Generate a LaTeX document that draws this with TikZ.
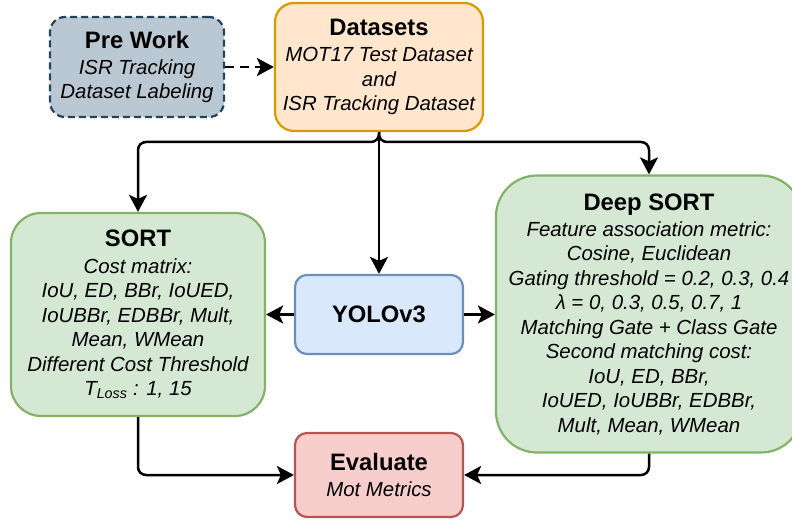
\documentclass[tikz,border=0pt]{standalone}
\usepackage{fontspec}
\setmainfont{Liberation Sans}
\usetikzlibrary{arrows.meta}
\definecolor{preFill}{HTML}{BAC8D3}
\definecolor{preLine}{HTML}{23445D}
\definecolor{dataFill}{HTML}{FFE6CC}
\definecolor{dataLine}{HTML}{D79B00}
\definecolor{greenFill}{HTML}{D5E8D4}
\definecolor{greenLine}{HTML}{82B366}
\definecolor{blueFill}{HTML}{DAE8FC}
\definecolor{blueLine}{HTML}{6C8EBF}
\definecolor{redFill}{HTML}{F8CECC}
\definecolor{redLine}{HTML}{B85450}
\newcommand\boxtitle[1]{{\fontsize{23.8}{24.5}\selectfont\bfseries\upshape #1}}
\begin{document}
\begin{tikzpicture}[x=1pt,y=-1pt,
  box/.style={draw, line width=2.2pt, align=center, inner sep=0pt,
    font=\fontsize{20.4}{24.5}\selectfont\itshape},
  conn/.style={line width=2.5pt, -{Stealth[length=17pt,width=18pt,inset=4pt]}},
]
\useasboundingbox (0,0) rectangle (792,521);
\clip (0,0) rectangle (792,521);

% boxes
\node[box, dashed, dash pattern=on 7pt off 4pt, draw=preLine, fill=preFill,
  rounded corners=15pt, minimum width=174pt, minimum height=100pt]
  (pre) at (137,67) {\boxtitle{Pre Work}\\[1.5pt]ISR Tracking\\Dataset Labeling};
\node[box, draw=dataLine, fill=dataFill, rounded corners=19pt,
  minimum width=208pt, minimum height=128pt]
  (data) at (379,67) {\boxtitle{Datasets}\\[1.5pt]MOT17 Test Dataset\\and\\ISR Tracking Dataset};
\node[box, draw=greenLine, fill=greenFill, rounded corners=30pt,
  minimum width=254pt, minimum height=203pt]
  (sort) at (138,314.5) {\boxtitle{SORT}\\[2pt]Cost matrix:\\IoU, ED, BBr, IoUED,\\IoUBBr, EDBBr, Mult,\\Mean, WMean\\Different Cost Threshold\\T\textsubscript{Loss} : 1, 15};
\node[box, draw=blueLine, fill=blueFill, rounded corners=12pt,
  minimum width=168pt, minimum height=79pt]
  (yolo) at (379,314.5) {\boxtitle{YOLOv3}};
\node[box, draw=greenLine, fill=greenFill, rounded corners=41pt,
  minimum width=306pt, minimum height=277pt]
  (deep) at (649,314) {\boxtitle{Deep SORT}\\[1.5pt]Feature association metric:\\Cosine, Euclidean\\Gating threshold = 0.2, 0.3, 0.4\\λ = 0, 0.3, 0.5, 0.7, 1\\Matching Gate + Class Gate\\Second matching cost:\\IoU, ED, BBr,\\IoUED, IoUBBr, EDBBr,\\Mult, Mean, WMean};
\node[box, draw=redLine, fill=redFill, rounded corners=12pt,
  minimum width=168pt, minimum height=84pt]
  (eval) at (379,475) {\boxtitle{Evaluate}\\[1.5pt]Mot Metrics};

% connectors
\coordinate (split) at (379,142);
\draw[conn, dashed, dash pattern=on 9pt off 6pt] (pre.east) -- (data.west);
\draw[conn] (data.south) -- (yolo.north);
\draw[conn, rounded corners=8pt] (data.south) -- (split) -| (sort.north);
\draw[conn, rounded corners=8pt] (data.south) -- (split) -| (deep.north);
\draw[conn] (yolo.west) -- (sort.east |- yolo.west);
\draw[conn] (yolo.east) -- (deep.west |- yolo.east);
\draw[conn, rounded corners=8pt] (sort.south) |- (eval.west);
\draw[conn, rounded corners=8pt] (deep.south) |- (eval.east);
\end{tikzpicture}
\end{document}
